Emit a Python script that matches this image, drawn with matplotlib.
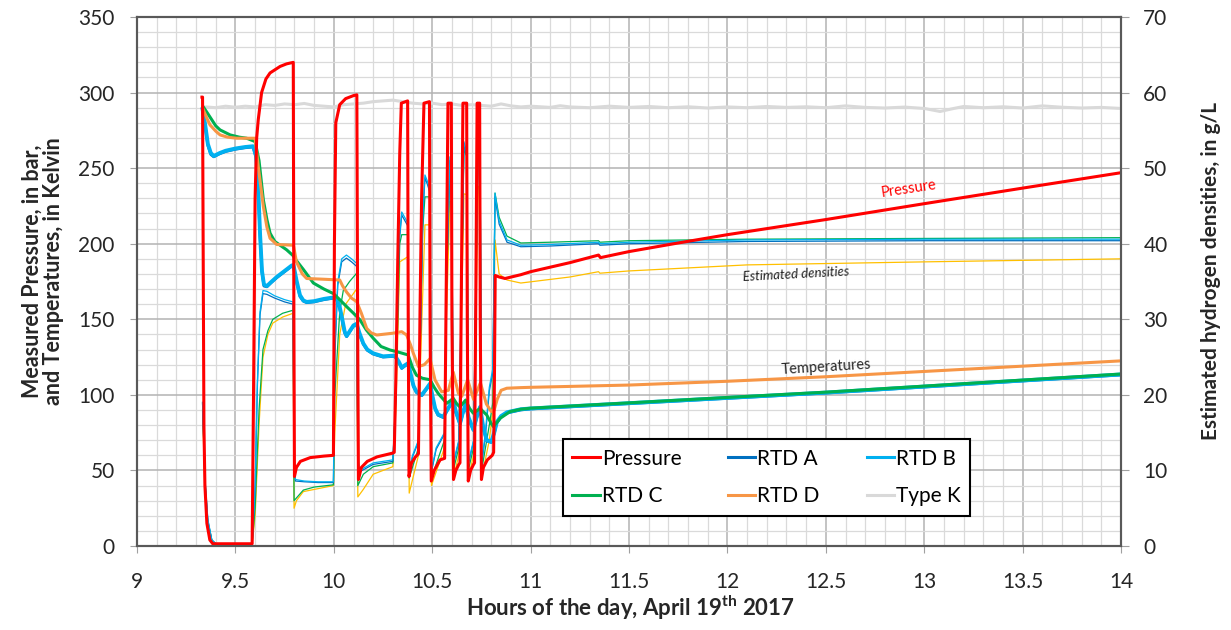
import numpy as np
import matplotlib
matplotlib.use("Agg")
import matplotlib.pyplot as plt
from matplotlib.ticker import MultipleLocator

plt.rcParams['font.family'] = ['Lato', 'DejaVu Sans']
plt.rcParams['mathtext.fontset'] = 'custom'
plt.rcParams['mathtext.bf'] = 'Lato:bold'
plt.rcParams['mathtext.rm'] = 'Lato'

# (hour of day, value) readings for each channel
pressure_pts = [
    (9.330, 297), (9.333, 297), (9.336, 200), (9.340, 80), (9.345, 40), (9.355, 15),
    (9.370, 4), (9.385, 1.5), (9.585, 1.5), (9.592, 100), (9.600, 230), (9.608, 270),
    (9.616, 282), (9.633, 300), (9.655, 309), (9.676, 313), (9.727, 317.3), (9.760, 319),
    (9.794, 320), (9.797, 150), (9.800, 46), (9.810, 52), (9.830, 56), (9.880, 58.5),
    (9.950, 59.5), (9.998, 60), (10.003, 200), (10.010, 280), (10.030, 292), (10.060, 296),
    (10.100, 298), (10.117, 298.5), (10.121, 150), (10.125, 44), (10.140, 52), (10.170, 56),
    (10.220, 59), (10.300, 61.5), (10.307, 62), (10.315, 110), (10.325, 190), (10.335, 260),
    (10.343, 293), (10.375, 294.5), (10.378, 150), (10.382, 46), (10.395, 55), (10.415, 59),
    (10.430, 61), (10.438, 156), (10.446, 230), (10.458, 293), (10.486, 294), (10.489, 150),
    (10.495, 43), (10.510, 50), (10.540, 57), (10.563, 58), (10.570, 156), (10.580, 293),
    (10.597, 293), (10.600, 150), (10.608, 44), (10.620, 50), (10.635, 54), (10.641, 55),
    (10.647, 156), (10.656, 293), (10.675, 293), (10.678, 150), (10.683, 43), (10.695, 50),
    (10.710, 54), (10.715, 55), (10.721, 156), (10.728, 293), (10.741, 293), (10.744, 150),
    (10.750, 44), (10.760, 52), (10.780, 57), (10.805, 60), (10.812, 62), (10.816, 110),
    (10.820, 179), (10.840, 178), (10.870, 177), (10.950, 179.5), (11.000, 181.5),
    (11.100, 184.5), (11.200, 187.5), (11.345, 192.5), (11.355, 190.8), (11.500, 194.8),
    (11.750, 200.5), (12.000, 206), (12.500, 216), (13.000, 226.5), (13.500, 236.8),
    (14.000, 247),
]

rtd_b_pts = [
    (9.333, 289), (9.345, 280), (9.360, 266), (9.375, 260), (9.390, 258), (9.420, 260),
    (9.450, 261.5), (9.500, 263), (9.550, 264), (9.590, 264.5), (9.605, 258), (9.615, 240),
    (9.625, 207), (9.635, 182), (9.645, 173), (9.660, 172), (9.680, 174.5), (9.710, 178),
    (9.750, 182), (9.785, 185.5), (9.795, 186), (9.810, 176), (9.828, 166), (9.845, 162.5),
    (9.862, 161.5), (9.900, 162), (9.950, 163.5), (10.000, 164.5), (10.014, 164),
    (10.030, 158), (10.040, 152), (10.055, 142), (10.065, 139), (10.080, 142), (10.100, 146),
    (10.116, 147), (10.130, 141), (10.150, 134), (10.170, 130), (10.200, 127.5),
    (10.250, 125.5), (10.310, 126), (10.330, 122), (10.345, 118), (10.360, 119.5),
    (10.378, 121), (10.390, 114), (10.405, 106), (10.420, 102), (10.447, 100), (10.470, 104),
    (10.489, 107.5), (10.500, 100), (10.515, 91), (10.530, 87), (10.556, 85.5), (10.580, 91),
    (10.607, 96.5), (10.620, 89), (10.641, 81), (10.655, 88), (10.670, 94), (10.685, 85),
    (10.709, 77), (10.725, 85), (10.743, 92), (10.760, 78), (10.777, 70), (10.800, 69),
    (10.815, 75), (10.828, 82), (10.850, 86), (10.880, 88.5), (10.950, 90.5), (11.000, 91),
    (11.500, 94.5), (12.000, 98), (12.500, 101.5), (13.000, 105.5), (13.500, 109.5),
    (14.000, 113.5),
]

rtd_a_pts = [
    (9.333, 288.5), (9.345, 279), (9.360, 265), (9.375, 259), (9.390, 257.5), (9.420, 259.5),
    (9.450, 261), (9.500, 262.5), (9.550, 263.5), (9.590, 264), (9.605, 257), (9.615, 238),
    (9.625, 205), (9.635, 181), (9.645, 172), (9.660, 171.5), (9.680, 174), (9.710, 177.5),
    (9.750, 181.5), (9.785, 185), (9.795, 185.5), (9.810, 175), (9.828, 165), (9.845, 162),
    (9.862, 161), (9.900, 161.5), (9.950, 163), (10.000, 164), (10.014, 163.5),
    (10.030, 157), (10.040, 151), (10.055, 141), (10.065, 138.5), (10.080, 141.5),
    (10.100, 145.5), (10.116, 146.5), (10.130, 140), (10.150, 133.5), (10.170, 129.5),
    (10.200, 127), (10.250, 125), (10.310, 125.5), (10.330, 121.5), (10.345, 117.5),
    (10.360, 119), (10.378, 120.5), (10.390, 113.5), (10.405, 105.5), (10.420, 101.5),
    (10.447, 99.5), (10.470, 103.5), (10.489, 107), (10.500, 99.5), (10.515, 90.5),
    (10.530, 86.5), (10.556, 85), (10.580, 90.5), (10.607, 96), (10.620, 88.5), (10.641, 80.5),
    (10.655, 87.5), (10.670, 93.5), (10.685, 84.5), (10.709, 76.5), (10.725, 84.5),
    (10.743, 91.5), (10.760, 77.5), (10.777, 69.5), (10.800, 68.5), (10.815, 74.5),
    (10.828, 81.5), (10.850, 85.5), (10.880, 88), (10.950, 90), (11.000, 90.7),
    (11.500, 94.2), (12.000, 97.7), (12.500, 101.2), (13.000, 105.2), (13.500, 109.2),
    (14.000, 113.2),
]

rtd_c_pts = [
    (9.337, 290.5), (9.360, 286), (9.380, 282), (9.400, 278), (9.422, 275.3), (9.450, 273.5),
    (9.473, 272), (9.520, 270.5), (9.557, 269.8), (9.600, 267.6), (9.620, 255), (9.642, 229),
    (9.660, 216), (9.676, 207), (9.700, 201.5), (9.727, 199), (9.760, 196), (9.794, 192),
    (9.803, 190), (9.845, 183), (9.896, 174), (9.950, 170), (9.998, 167), (10.030, 163),
    (10.065, 158.4), (10.100, 154), (10.133, 149.6), (10.165, 143), (10.200, 137.5),
    (10.240, 132), (10.285, 129.7), (10.320, 128.6), (10.378, 126.4), (10.400, 118),
    (10.420, 113), (10.450, 111), (10.489, 110), (10.510, 105), (10.530, 101), (10.574, 94.4),
    (10.607, 97.7), (10.625, 94), (10.641, 92), (10.670, 96.6), (10.690, 91), (10.709, 87.8),
    (10.743, 91), (10.777, 86.7), (10.800, 81), (10.811, 79), (10.830, 82), (10.845, 84.5),
    (10.895, 88.9), (10.950, 90.5), (11.000, 91.2), (11.500, 94.7), (12.000, 98.3),
    (12.500, 101.8), (13.000, 105.8), (13.500, 109.8), (14.000, 113.8),
]

rtd_d_pts = [
    (9.337, 288.5), (9.355, 283), (9.371, 278.6), (9.400, 274.5), (9.422, 272), (9.460, 270.5),
    (9.507, 269.8), (9.600, 269.8), (9.616, 251), (9.642, 224.5), (9.660, 211), (9.676, 203.6),
    (9.710, 199.5), (9.795, 199), (9.810, 188), (9.840, 180), (9.862, 177), (9.950, 176.5),
    (10.030, 176), (10.045, 172), (10.065, 168), (10.090, 164), (10.116, 161.7), (10.140, 154),
    (10.167, 144), (10.190, 141), (10.218, 139.6), (10.300, 140.8), (10.345, 141.8),
    (10.370, 139.6), (10.390, 133), (10.404, 127.5), (10.430, 118.7), (10.460, 120),
    (10.489, 124), (10.514, 110), (10.548, 102), (10.582, 103), (10.607, 115), (10.633, 101),
    (10.650, 99), (10.680, 110), (10.710, 97), (10.745, 108), (10.775, 94), (10.800, 89),
    (10.815, 90), (10.830, 97), (10.850, 103), (10.879, 104.4), (10.950, 104.8),
    (11.000, 105), (11.500, 106.5), (12.000, 109), (12.500, 112), (13.000, 115.5),
    (13.500, 119), (14.000, 122.5),
]

type_k_pts = [
    (9.333, 289.5), (9.350, 290.5), (9.400, 290), (9.450, 291), (9.500, 290.3), (9.550, 291),
    (9.600, 290.5), (9.650, 292), (9.700, 291.5), (9.750, 292.5), (9.800, 292), (9.850, 292.8),
    (9.900, 291.5), (9.950, 291), (10.000, 290.5), (10.050, 292), (10.100, 292.5),
    (10.150, 293), (10.200, 294), (10.250, 294.5), (10.300, 295), (10.350, 294), (10.400, 293),
    (10.450, 292.5), (10.500, 293), (10.550, 292), (10.600, 292.5), (10.650, 291.5),
    (10.700, 292), (10.750, 291.5), (10.800, 291), (10.850, 292.5), (10.900, 291.2),
    (10.950, 290.5), (11.000, 291), (11.100, 290.2), (11.150, 291.3), (11.200, 290.5),
    (11.300, 290), (11.400, 291), (11.500, 290.2), (11.600, 290.8), (11.700, 290),
    (11.800, 290.6), (11.900, 289.8), (12.000, 290.5), (12.100, 290), (12.200, 290.8),
    (12.300, 290.2), (12.400, 290.6), (12.500, 290), (12.600, 291.2), (12.700, 290.2),
    (12.800, 289.8), (12.900, 290.4), (13.000, 289.5), (13.080, 287.5), (13.150, 289.5),
    (13.200, 290.8), (13.300, 290), (13.400, 290.6), (13.500, 289.8), (13.600, 291.2),
    (13.700, 290.3), (13.800, 289.8), (13.900, 290.2), (14.000, 289.5),
]

# estimated hydrogen densities (g/L), one per RTD
dens_b_pts = [
    (9.333, 19), (9.345, 9), (9.360, 3.5), (9.380, 0.8), (9.400, 0.3), (9.585, 0.3),
    (9.600, 8), (9.612, 22), (9.625, 31), (9.640, 33.8), (9.660, 33.7), (9.700, 33.1),
    (9.750, 32.6), (9.793, 32.3), (9.798, 12), (9.805, 8.8), (9.850, 8.6), (9.920, 8.5),
    (9.998, 8.5), (10.005, 26), (10.020, 35), (10.040, 38), (10.064, 38.5), (10.090, 38),
    (10.116, 37.4), (10.122, 12), (10.130, 10), (10.200, 11), (10.300, 11.4), (10.315, 20),
    (10.330, 40), (10.345, 44.2), (10.360, 43.5), (10.377, 42.7), (10.383, 10), (10.400, 12),
    (10.430, 14), (10.440, 28), (10.452, 44), (10.463, 49.1), (10.475, 48.3), (10.488, 47.1),
    (10.496, 10), (10.520, 13), (10.562, 15), (10.572, 35), (10.590, 51.5), (10.599, 50.5),
    (10.607, 11), (10.635, 14), (10.647, 32), (10.661, 53.5), (10.677, 52), (10.683, 11),
    (10.710, 14), (10.722, 36), (10.734, 54.6), (10.743, 53.5), (10.751, 11), (10.770, 15),
    (10.790, 21), (10.808, 23.5), (10.819, 46.7), (10.840, 43), (10.880, 40.5),
    (10.950, 39.8), (11.100, 39.9), (11.345, 40.2), (11.352, 40.0), (11.500, 40.2),
    (12.100, 40.5), (13.000, 40.6), (14.000, 40.6),
]

dens_a_pts = [
    (9.333, 18.8), (9.345, 8.8), (9.360, 3.4), (9.380, 0.8), (9.400, 0.3), (9.585, 0.3),
    (9.600, 7.5), (9.612, 21.5), (9.625, 30.6), (9.640, 33.4), (9.660, 33.3), (9.700, 32.8),
    (9.750, 32.3), (9.793, 32.0), (9.798, 11.5), (9.805, 8.6), (9.850, 8.5), (9.920, 8.4),
    (9.998, 8.4), (10.005, 25), (10.020, 34.5), (10.040, 37.6), (10.064, 38.1), (10.090, 37.6),
    (10.116, 37.0), (10.122, 11.5), (10.130, 9.8), (10.200, 10.8), (10.300, 11.2),
    (10.315, 19.5), (10.330, 39.5), (10.345, 43.8), (10.360, 43.1), (10.377, 42.3),
    (10.383, 9.8), (10.400, 11.8), (10.430, 13.8), (10.440, 27.5), (10.452, 43.5),
    (10.463, 48.7), (10.475, 47.9), (10.488, 46.8), (10.496, 9.8), (10.520, 12.8),
    (10.562, 14.8), (10.572, 34.5), (10.590, 51.0), (10.599, 50.1), (10.607, 10.8),
    (10.635, 13.8), (10.647, 31.5), (10.661, 53.0), (10.677, 51.6), (10.683, 10.8),
    (10.710, 13.8), (10.722, 35.5), (10.734, 54.1), (10.743, 53.1), (10.751, 10.8),
    (10.770, 14.5), (10.790, 20.5), (10.808, 23.0), (10.819, 46.2), (10.840, 42.6),
    (10.880, 40.2), (10.950, 39.6), (11.100, 39.7), (11.345, 40.0), (11.352, 39.8),
    (11.500, 40.0), (12.100, 40.3), (13.000, 40.4), (14.000, 40.4),
]

dens_c_pts = [
    (9.333, 19), (9.345, 8.5), (9.360, 3.2), (9.380, 0.8), (9.400, 0.3), (9.585, 0.3),
    (9.600, 5), (9.620, 18), (9.640, 26), (9.665, 28.5), (9.690, 30), (9.740, 30.8),
    (9.793, 31.2), (9.798, 6), (9.845, 7.4), (9.900, 7.8), (9.998, 8.1), (10.005, 20),
    (10.030, 31), (10.048, 33.8), (10.080, 35), (10.116, 36.1), (10.122, 8), (10.150, 9.5),
    (10.200, 10.5), (10.300, 11), (10.315, 20), (10.335, 40), (10.345, 41.2), (10.377, 41.2),
    (10.383, 9), (10.430, 13), (10.440, 28), (10.452, 42), (10.463, 46.2), (10.488, 46.2),
    (10.496, 9), (10.562, 14), (10.572, 34), (10.590, 50.2), (10.599, 50), (10.607, 10),
    (10.635, 13), (10.647, 30), (10.661, 52.4), (10.677, 51.5), (10.683, 10), (10.710, 13),
    (10.722, 34), (10.734, 52.8), (10.743, 52.5), (10.751, 10), (10.790, 16), (10.808, 19),
    (10.819, 46.7), (10.840, 43.5), (10.880, 41), (10.950, 40.1), (11.100, 40.2),
    (11.345, 40.4), (11.352, 40.2), (11.500, 40.4), (12.100, 40.6), (13.000, 40.7),
    (14.000, 40.8),
]

dens_d_pts = [
    (9.333, 18), (9.345, 7.5), (9.360, 3), (9.380, 0.7), (9.400, 0.3), (9.585, 0.3),
    (9.600, 4), (9.620, 16), (9.640, 25), (9.665, 28), (9.690, 29.5), (9.740, 30.3),
    (9.793, 30.8), (9.798, 5), (9.810, 6), (9.845, 7.2), (9.998, 8), (10.005, 15),
    (10.030, 28), (10.060, 32), (10.116, 34), (10.122, 6.5), (10.150, 7.5), (10.200, 9.5),
    (10.300, 10.5), (10.315, 18), (10.335, 37.6), (10.377, 38.3), (10.383, 7), (10.430, 12),
    (10.440, 24), (10.463, 42.5), (10.488, 42.5), (10.496, 8), (10.562, 13), (10.572, 30),
    (10.590, 45.6), (10.599, 45.5), (10.607, 9), (10.635, 12), (10.647, 28), (10.661, 46.6),
    (10.677, 46.5), (10.683, 9), (10.710, 12), (10.722, 30), (10.734, 47.6), (10.743, 47.5),
    (10.751, 9), (10.790, 14), (10.808, 18), (10.819, 40.5), (10.840, 36), (10.880, 35.2),
    (10.950, 34.8), (11.200, 35.6), (11.345, 36.3), (11.352, 36.1), (11.500, 36.4),
    (12.100, 37.2), (13.000, 37.6), (14.000, 38.0),
]


def xy(pts):
    arr = np.array(pts, dtype=float)
    return arr[:, 0], arr[:, 1]


fig = plt.figure(figsize=(12.31, 6.30), dpi=100)
ax = fig.add_axes([0.1113, 0.1333, 0.7994, 0.8397])
ax2 = ax.twinx()

# densities live on the lower (secondary) axes, temperatures/pressure on top
ax.set_zorder(ax2.get_zorder() + 1)
ax.patch.set_visible(False)
ax2.patch.set_visible(True)
ax2.patch.set_facecolor('white')

ax.set_xlim(9, 14)
ax.set_ylim(0, 350)
ax2.set_ylim(0, 70)

ax.xaxis.set_major_locator(MultipleLocator(0.5))
ax.xaxis.set_minor_locator(MultipleLocator(0.1))
ax.yaxis.set_major_locator(MultipleLocator(50))
ax.yaxis.set_minor_locator(MultipleLocator(10))
ax2.yaxis.set_major_locator(MultipleLocator(10))
ax2.yaxis.set_minor_locator(MultipleLocator(2))

# grid drawn on the bottom axes so every curve sits above it
ax2.xaxis.set_visible(True)
ax2.tick_params(axis='x', which='both', length=0, labelbottom=False, labeltop=False)
ax2.grid(which='major', axis='both', color='#B3B3B3', linewidth=1.1)
ax2.grid(which='minor', axis='both', color='#DADADA', linewidth=0.9)
ax2.set_axisbelow(True)

thin = 0.9
ax2.plot(*xy(dens_d_pts), color='#FFC000', linewidth=thin)
ax2.plot(*xy(dens_c_pts), color='#00B050', linewidth=thin)
ax2.plot(*xy(dens_a_pts), color='#0070C0', linewidth=thin)
ax2.plot(*xy(dens_b_pts), color='#00B0F0', linewidth=thin)

h_k, = ax.plot(*xy(type_k_pts), color='#D9D9D9', linewidth=2.2, label='Type K')
h_a, = ax.plot(*xy(rtd_a_pts), color='#0070C0', linewidth=2.0, label='RTD A')
h_b, = ax.plot(*xy(rtd_b_pts), color='#00B0F0', linewidth=2.8, label='RTD B')
h_c, = ax.plot(*xy(rtd_c_pts), color='#00B050', linewidth=2.2, label='RTD C')
h_d, = ax.plot(*xy(rtd_d_pts), color='#F79646', linewidth=2.2, label='RTD D')
h_p, = ax.plot(*xy(pressure_pts), color='#FF0000', linewidth=2.2, label='Pressure')

ax.text(12.92, 236, 'Pressure', color='#FF0000', fontsize=10.5, rotation=8.5,
        ha='center', va='center')
ax.text(12.35, 179.5, 'Estimated densities', color='#262626', fontsize=9.5,
        style='italic', rotation=3, ha='center', va='center')
ax.text(12.5, 118.5, 'Temperatures', color='#262626', fontsize=10.5, rotation=3.5,
        ha='center', va='center')

# spines and ticks
for a in (ax, ax2):
    for s in a.spines.values():
        s.set_color('#595959')
        s.set_linewidth(1.5)

ax.tick_params(axis='x', which='major', direction='out', length=5, color='#A0A0A0',
               labelsize=15, labelcolor='#262626', pad=14)
ax.tick_params(axis='y', which='major', direction='out', length=5, color='#A0A0A0',
               labelsize=15, labelcolor='#262626', pad=11)
ax.tick_params(which='minor', length=0)
ax2.tick_params(axis='y', which='major', direction='out', length=6, color='#A0A0A0',
                labelsize=15, labelcolor='#262626', pad=10)
ax2.tick_params(axis='y', which='minor', length=0)

ax.set_xticks(np.arange(9, 14.01, 0.5))
ax.set_xticklabels(['9', '9.5', '10', '10.5', '11', '11.5', '12', '12.5', '13', '13.5', '14'])

ax.set_xlabel('Hours of the day, April 19$^{\\mathbf{th}}$ 2017', fontsize=16,
              fontweight='bold', color='#262626')
ax.xaxis.set_label_coords(0.501, -0.09)
ax.set_ylabel('Measured Pressure, in bar,\nand Temperatures, in Kelvin', fontsize=15.5,
              fontweight='bold', color='#262626', linespacing=1.0)
ax.yaxis.set_label_coords(-0.074, 0.52)
ax2.set_ylabel('Estimated hydrogen densities, in g/L', fontsize=15,
               fontweight='bold', color='#262626')
ax2.yaxis.set_label_coords(1.081, 0.52)

leg = ax.legend(handles=[h_p, h_c, h_a, h_d, h_b, h_k], ncol=3,
                loc='center', bbox_to_anchor=(0.433, 0.0567, 0.4135, 0.1456),
                mode='expand', borderaxespad=0, fontsize=15, handlelength=1.3,
                handletextpad=0.1, labelspacing=0.85, borderpad=0.45, fancybox=False,
                framealpha=1, edgecolor='black')
leg.get_frame().set_linewidth(1.5)
for line in leg.get_lines():
    line.set_linewidth(2.2)

fig.savefig('out.png', dpi=100)
